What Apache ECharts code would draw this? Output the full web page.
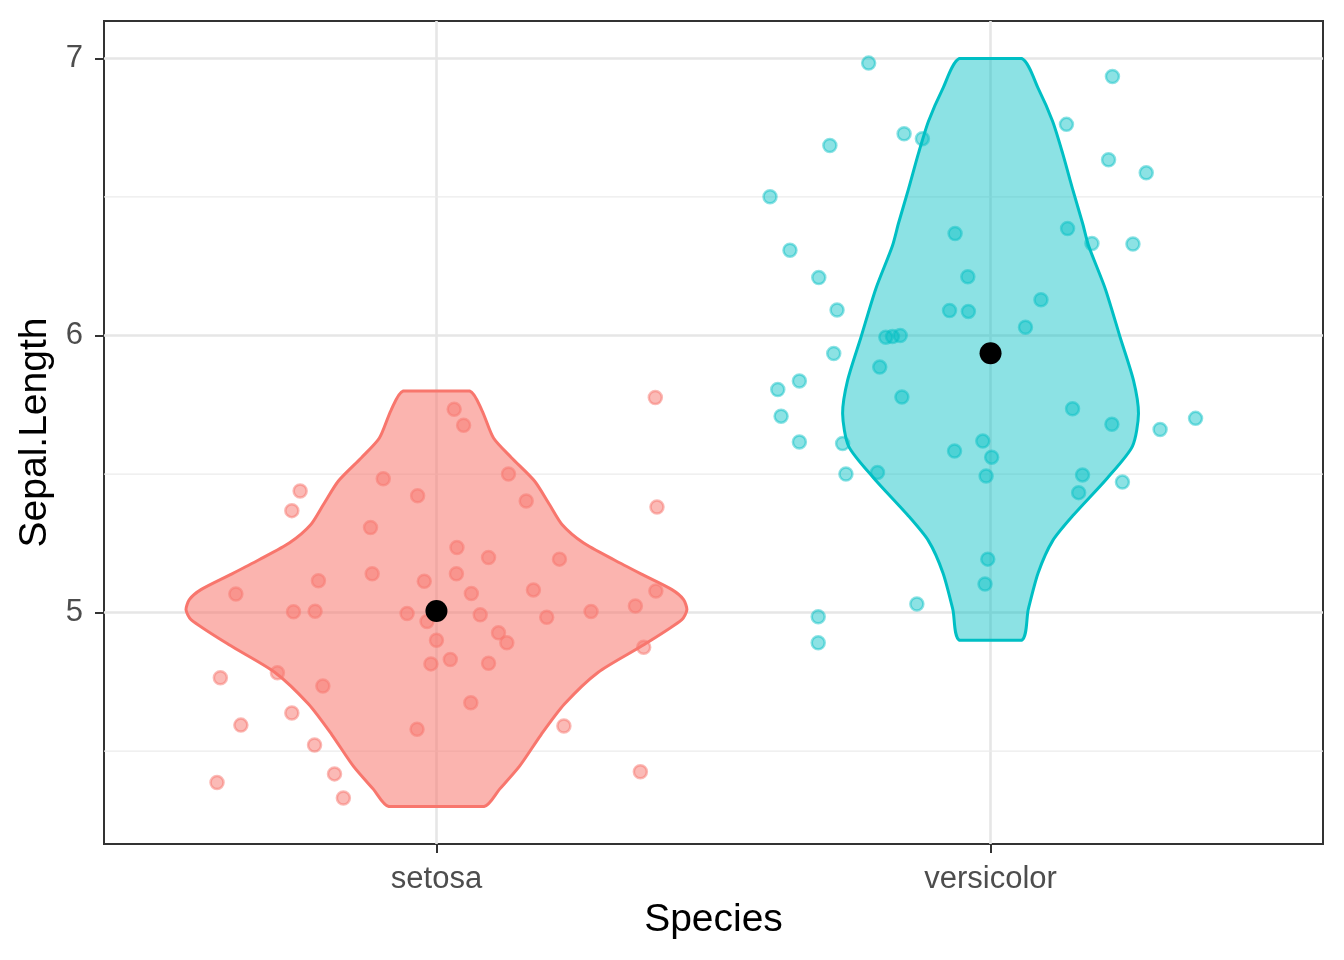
<!doctype html>
<html lang="en">
<head>
    <meta charset="UTF-8">
    <title>Sepal.Length by Species</title>
    <script src="https://cdn.jsdelivr.net/npm/echarts@6/dist/echarts.min.js"></script>
    <style>
        html, body { margin: 0; padding: 0; background: #fff; }
        #chart { width: 1344px; height: 960px; }
    </style>
</head>
<body>
<div id="chart"></div>
<script type="text/javascript">
    // categories sit at x = 1, 2 on a continuous axis so the jitter can spread round them
    var species = ['setosa', 'versicolor'];
    var speciesX = [1, 2];
    var colors = ['#F8766D', '#00BFC4'];

    var yTicks = [5, 6, 7];
    var yMinor = [4.5, 5.5, 6.5];

    // violin outline: y value and half width (x units), top to bottom
    var setosaViolinY = [5.80, 5.73, 5.63, 5.56, 5.475, 5.39, 5.317, 5.252, 5.19, 5.137, 5.083, 5.047, 5.011, 4.975, 4.885, 4.785, 4.67, 4.56, 4.446, 4.363, 4.30];
    var setosaViolinW = [0.060, 0.082, 0.103, 0.135, 0.177, 0.204, 0.227, 0.265, 0.321, 0.372, 0.425, 0.446, 0.452, 0.443, 0.375, 0.292, 0.231, 0.189, 0.150, 0.114, 0.086];
    var versicolorViolinY = [7.00, 6.892, 6.773, 6.658, 6.529, 6.406, 6.324, 6.169, 5.993, 5.838, 5.719, 5.60, 5.486, 5.353, 5.259, 5.144, 5.011, 4.90];
    var versicolorViolinW = [0.056, 0.086, 0.112, 0.130, 0.148, 0.166, 0.177, 0.207, 0.234, 0.258, 0.267, 0.256, 0.211, 0.150, 0.112, 0.086, 0.068, 0.056];

    // jittered points
    var setosaX = [1.395, 1.032, 1.049, 0.754, 0.739, 0.904, 0.966, 1.130, 1.162, 1.398,
        0.881, 1.037, 1.094, 1.222, 0.884, 1.036, 0.787, 0.978, 0.638, 1.063,
        1.175, 1.396, 0.742, 0.781, 0.947, 0.983, 1.079, 1.199, 1.279, 1.359,
        1.000, 1.112, 1.127, 1.374, 0.990, 1.025, 1.094, 0.610, 0.713, 0.795,
        1.062, 0.739, 0.647, 0.965, 1.230, 0.780, 0.816, 1.368, 0.604, 0.832];
    var setosaY = [5.776, 5.734, 5.676, 5.439, 5.368, 5.483, 5.422, 5.500, 5.403, 5.381,
        5.307, 5.235, 5.199, 5.193, 5.140, 5.140, 5.115, 5.113, 5.067, 5.069,
        5.082, 5.078, 5.003, 5.005, 4.997, 4.968, 4.992, 4.983, 5.004, 5.024,
        4.900, 4.927, 4.891, 4.875, 4.815, 4.831, 4.817, 4.765, 4.783, 4.735,
        4.675, 4.638, 4.594, 4.579, 4.591, 4.522, 4.418, 4.426, 4.387, 4.331];
    var versicolorX = [1.780, 2.220, 2.137, 1.844, 1.877, 1.710, 2.213, 2.281, 1.602, 1.936,
        2.139, 2.183, 2.257, 1.638, 1.690, 1.959, 2.091, 1.723, 1.926, 1.960,
        2.063, 1.811, 1.823, 1.837, 1.717, 1.800, 1.655, 1.616, 1.840, 1.622,
        2.148, 2.219, 2.306, 2.370, 1.655, 1.733, 1.986, 1.935, 2.002, 1.739,
        1.796, 1.992, 2.166, 2.238, 2.159, 1.995, 1.990, 1.867, 1.689, 1.689];
    var versicolorY = [6.983, 6.935, 6.762, 6.728, 6.710, 6.686, 6.634, 6.587, 6.501, 6.368,
        6.386, 6.332, 6.330, 6.308, 6.209, 6.212, 6.129, 6.092, 6.090, 6.087,
        6.030, 5.994, 5.996, 6.000, 5.935, 5.886, 5.836, 5.805, 5.778, 5.709,
        5.736, 5.680, 5.661, 5.701, 5.616, 5.610, 5.619, 5.583, 5.561, 5.500,
        5.506, 5.493, 5.497, 5.471, 5.433, 5.193, 5.103, 5.031, 4.985, 4.891];

    // group means
    var meanY = [5.006, 5.936];

    var violinY = [setosaViolinY, versicolorViolinY];
    var violinW = [setosaViolinW, versicolorViolinW];
    var fills = ['rgba(248,118,109,0.55)', 'rgba(0,191,196,0.45)'];
    var pointFills = ['rgba(248,118,109,0.5)', 'rgba(0,191,196,0.45)'];
    var font = '"Liberation Sans", Arial, Helvetica, sans-serif';

    var zip = function (xs, ys) {
        return xs.map(function (x, i) { return [x, ys[i]]; });
    };

    var jitterSeries = function (i, xs, ys) {
        return {
            type: 'scatter',
            name: species[i],
            data: zip(xs, ys),
            symbol: 'circle',
            symbolSize: 13,
            silent: true,
            z: 2,
            itemStyle: {color: pointFills[i], borderColor: pointFills[i], borderWidth: 2.5, opacity: 1}
        };
    };

    var myChart = echarts.init(document.getElementById('chart'));
    var option = {
        animation: false,
        backgroundColor: '#fff',
        grid: {
            left: 104, right: 21, top: 21, bottom: 116,
            show: true, borderColor: '#333333', borderWidth: 2, backgroundColor: '#fff'
        },
        xAxis: {
            type: 'value',
            min: 0.4,
            max: 2.6,
            name: 'Species',
            nameLocation: 'middle',
            nameGap: 57,
            nameTextStyle: {fontSize: 39, color: '#000', fontFamily: font},
            axisLine: {show: false},
            axisTick: {customValues: speciesX, length: 9, lineStyle: {color: '#333333', width: 2}},
            axisLabel: {
                customValues: speciesX,
                formatter: function (v) { return species[Math.round(v) - 1]; },
                fontSize: 31, color: '#4D4D4D', margin: 20, fontFamily: font
            },
            splitLine: {show: true, lineStyle: {color: '#E6E6E6', width: 2.6}}
        },
        yAxis: {
            type: 'value',
            min: 4.165,
            max: 7.135,
            name: 'Sepal.Length',
            nameLocation: 'middle',
            nameGap: 48,
            nameTextStyle: {fontSize: 39, color: '#000', fontFamily: font},
            axisLine: {show: false},
            axisTick: {customValues: yTicks, length: 9, lineStyle: {color: '#333333', width: 2}},
            axisLabel: {customValues: yTicks, fontSize: 31, color: '#4D4D4D', margin: 21, fontFamily: font},
            splitLine: {show: true, lineStyle: {color: '#E6E6E6', width: 2.6}}
        },
        series: [
            {
                // minor grid lines
                type: 'custom',
                silent: true,
                z: 1,
                data: yMinor.map(function (v) { return [1, v]; }),
                renderItem: function (params, api) {
                    var v = api.value(1);
                    var a = api.coord([0.4, v]);
                    var b = api.coord([2.6, v]);
                    return {
                        type: 'line',
                        shape: {x1: a[0], y1: a[1], x2: b[0], y2: b[1]},
                        style: {stroke: '#EBEBEB', lineWidth: 1.3}
                    };
                }
            },
            jitterSeries(0, setosaX, setosaY),
            jitterSeries(1, versicolorX, versicolorY),
            {
                // violins
                type: 'custom',
                silent: true,
                z: 3,
                data: zip(speciesX, meanY),
                renderItem: function (params, api) {
                    var i = params.dataIndex;
                    var c = speciesX[i], ys = violinY[i], ws = violinW[i];
                    var pts = [], k;
                    for (k = 0; k < ys.length; k++) {
                        pts.push(api.coord([c + ws[k], ys[k]]));
                    }
                    for (k = ys.length - 1; k >= 0; k--) {
                        pts.push(api.coord([c - ws[k], ys[k]]));
                    }
                    // keep the curve inside the outline's box so the flat ends stay flat
                    var lo = [Infinity, Infinity], hi = [-Infinity, -Infinity];
                    pts.forEach(function (p) {
                        lo[0] = Math.min(lo[0], p[0]); lo[1] = Math.min(lo[1], p[1]);
                        hi[0] = Math.max(hi[0], p[0]); hi[1] = Math.max(hi[1], p[1]);
                    });
                    return {
                        type: 'polygon',
                        shape: {points: pts, smooth: 0.25, smoothConstraint: [lo, hi]},
                        style: {fill: fills[i], stroke: colors[i], lineWidth: 3, lineJoin: 'round'}
                    };
                }
            },
            {
                // means
                type: 'scatter',
                data: zip(speciesX, meanY),
                symbol: 'circle',
                symbolSize: 22,
                silent: true,
                z: 4,
                itemStyle: {color: '#000', opacity: 1}
            }
        ]
    };
    myChart.setOption(option);
</script>
</body>
</html>
